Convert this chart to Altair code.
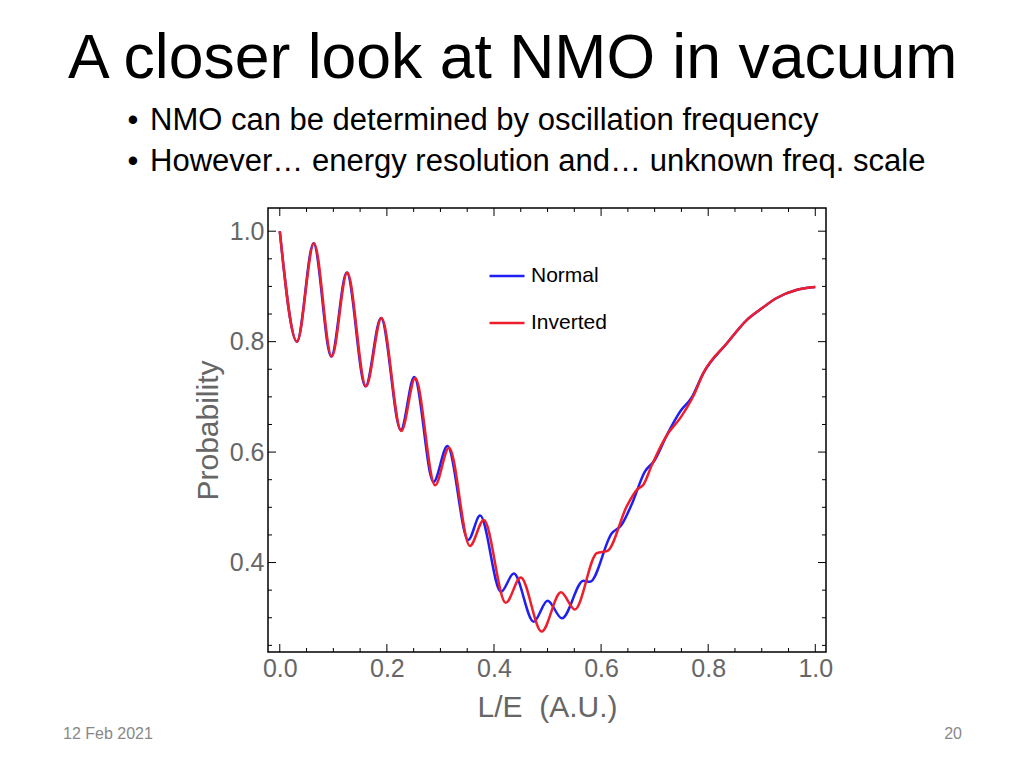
import altair as alt
import pandas as pd

# ---- data ----
normal_x = [0.000, 0.032, 0.063, 0.096, 0.125, 0.160, 0.189, 0.226, 0.251, 0.287,
            0.313, 0.352, 0.374, 0.413, 0.437, 0.474, 0.500, 0.527, 0.567, 0.579,
            0.620, 0.638, 0.657, 0.682, 0.700, 0.723, 0.748, 0.768, 0.791, 0.835,
            0.872, 0.897, 0.928, 0.966, 1.000]
normal_y = [1.000, 0.800, 0.978, 0.773, 0.925, 0.719, 0.843, 0.640, 0.736, 0.546,
            0.611, 0.441, 0.485, 0.347, 0.380, 0.293, 0.331, 0.299, 0.367, 0.365,
            0.453, 0.468, 0.505, 0.565, 0.585, 0.631, 0.674, 0.697, 0.743, 0.797,
            0.839, 0.858, 0.879, 0.894, 0.899]

inverted_x = [0.000, 0.032, 0.064, 0.097, 0.126, 0.161, 0.190, 0.227, 0.253, 0.290,
              0.316, 0.355, 0.381, 0.422, 0.450, 0.489, 0.525, 0.551, 0.592, 0.612,
              0.648, 0.667, 0.679, 0.695, 0.723, 0.748, 0.773, 0.791, 0.835, 0.872,
              0.897, 0.928, 0.966, 1.000]
inverted_y = [1.000, 0.800, 0.978, 0.773, 0.925, 0.719, 0.843, 0.638, 0.734, 0.540,
              0.608, 0.430, 0.477, 0.327, 0.373, 0.275, 0.346, 0.315, 0.417, 0.421,
              0.502, 0.532, 0.541, 0.577, 0.631, 0.662, 0.703, 0.743, 0.797, 0.839,
              0.858, 0.879, 0.894, 0.899]

series_names = ["Normal", "Inverted"]
series_colors = ["#1f1ff2", "#ee1f2d"]

x_major = [0.0, 0.2, 0.4, 0.6, 0.8, 1.0]
x_minor = [0.05, 0.1, 0.15, 0.25, 0.3, 0.35, 0.45, 0.5, 0.55, 0.65, 0.7, 0.75, 0.85, 0.9, 0.95]
y_major = [0.4, 0.6, 0.8, 1.0]
y_minor = [0.25, 0.3, 0.35, 0.45, 0.5, 0.55, 0.65, 0.7, 0.75, 0.85, 0.9, 0.95]

title_text = "A closer look at NMO in vacuum"
bullets = ["NMO can be determined by oscillation frequency",
           "However\u2026 energy resolution and\u2026 unknown freq. scale"]
footer_left = "12 Feb 2021"
footer_right = "20"

# ---- layout ----
FONT = "Liberation Sans"
W, H = 558, 444
XD = [-0.022, 1.02]
YD = [0.238, 1.042]
xs = alt.Scale(domain=XD, nice=False, zero=False)
ys = alt.Scale(domain=YD, nice=False, zero=False)

xaxis = alt.Axis(values=x_major, format=".1f", ticks=False, domain=False, grid=False,
                 labelFontSize=25, labelColor="#666666", labelFont=FONT, labelPadding=4,
                 title="L/E\u00a0 (A.U.)", titleFontSize=30, titleFont=FONT,
                 titleColor="#666666", titleFontWeight="normal", titlePadding=11)
yaxis = alt.Axis(values=y_major, format=".1f", ticks=False, domain=False, grid=False,
                 labelFontSize=25, labelColor="#666666", labelFont=FONT, labelPadding=4,
                 title="Probability", titleFontSize=30, titleFont=FONT,
                 titleColor="#666666", titleFontWeight="normal", titlePadding=6)

color = alt.Color("s:N",
                  scale=alt.Scale(domain=series_names, range=series_colors),
                  legend=alt.Legend(title=None, orient="none", legendX=220, legendY=49,
                                    symbolType="stroke", symbolSize=1225, symbolStrokeWidth=2.5,
                                    labelFontSize=21, labelFont=FONT, labelColor="black",
                                    rowPadding=18, labelOffset=5))

df_n = pd.DataFrame({"x": normal_x, "y": normal_y, "s": series_names[0]})
df_i = pd.DataFrame({"x": inverted_x, "y": inverted_y, "s": series_names[1]})


def line(df):
    return alt.Chart(df).mark_line(strokeWidth=2.5, interpolate="monotone").encode(
        x=alt.X("x:Q", scale=xs, axis=xaxis),
        y=alt.Y("y:Q", scale=ys, axis=yaxis),
        color=color,
        order=alt.Order("x:Q"),
    )


def xticks(vals, length, top):
    y0 = 0 if top else H
    y1 = length if top else H - length
    return alt.Chart(pd.DataFrame({"v": vals})).mark_rule(color="black", strokeWidth=1).encode(
        x=alt.X("v:Q", scale=xs, axis=xaxis), y=alt.value(y0), y2=alt.value(y1))


def yticks(vals, length, right):
    x0 = W if right else 0
    x1 = W - length if right else length
    return alt.Chart(pd.DataFrame({"v": vals})).mark_rule(color="black", strokeWidth=1).encode(
        y=alt.Y("v:Q", scale=ys, axis=yaxis), x=alt.value(x0), x2=alt.value(x1))


def text(t, x, y, size, col="black", align="left"):
    return alt.Chart(pd.DataFrame({"t": [t]})).mark_text(
        align=align, baseline="alphabetic", font=FONT, fontSize=size, color=col
    ).encode(x=alt.value(x), y=alt.value(y), text="t:N")


layers = [line(df_n), line(df_i)]
for top in (False, True):
    layers.append(xticks(x_major, 8, top))
    layers.append(xticks(x_minor, 4, top))
for right in (False, True):
    layers.append(yticks(y_major, 8, right))
    layers.append(yticks(y_minor, 4, right))

layers += [
    text(title_text, -200, -130, 62.5),
    text("\u2022", -135, -78, 31, align="center"),
    text(bullets[0], -118, -78, 31),
    text("\u2022", -135, -37, 31, align="center"),
    text(bullets[1], -118, -37, 31),
    text(footer_left, -205, 531, 16, col="#888888"),
    text(footer_right, 694, 531, 16, col="#888888", align="right"),
]

chart = alt.layer(*layers).properties(
    width=W, height=H,
    padding={"left": 260, "top": 200, "right": 190, "bottom": 108},
    autosize=alt.AutoSizeParams(type="none"),
    background="white",
).configure_view(stroke="black", strokeWidth=1.5)

chart.save("out.html", embed_options={"renderer": "svg", "actions": False})
